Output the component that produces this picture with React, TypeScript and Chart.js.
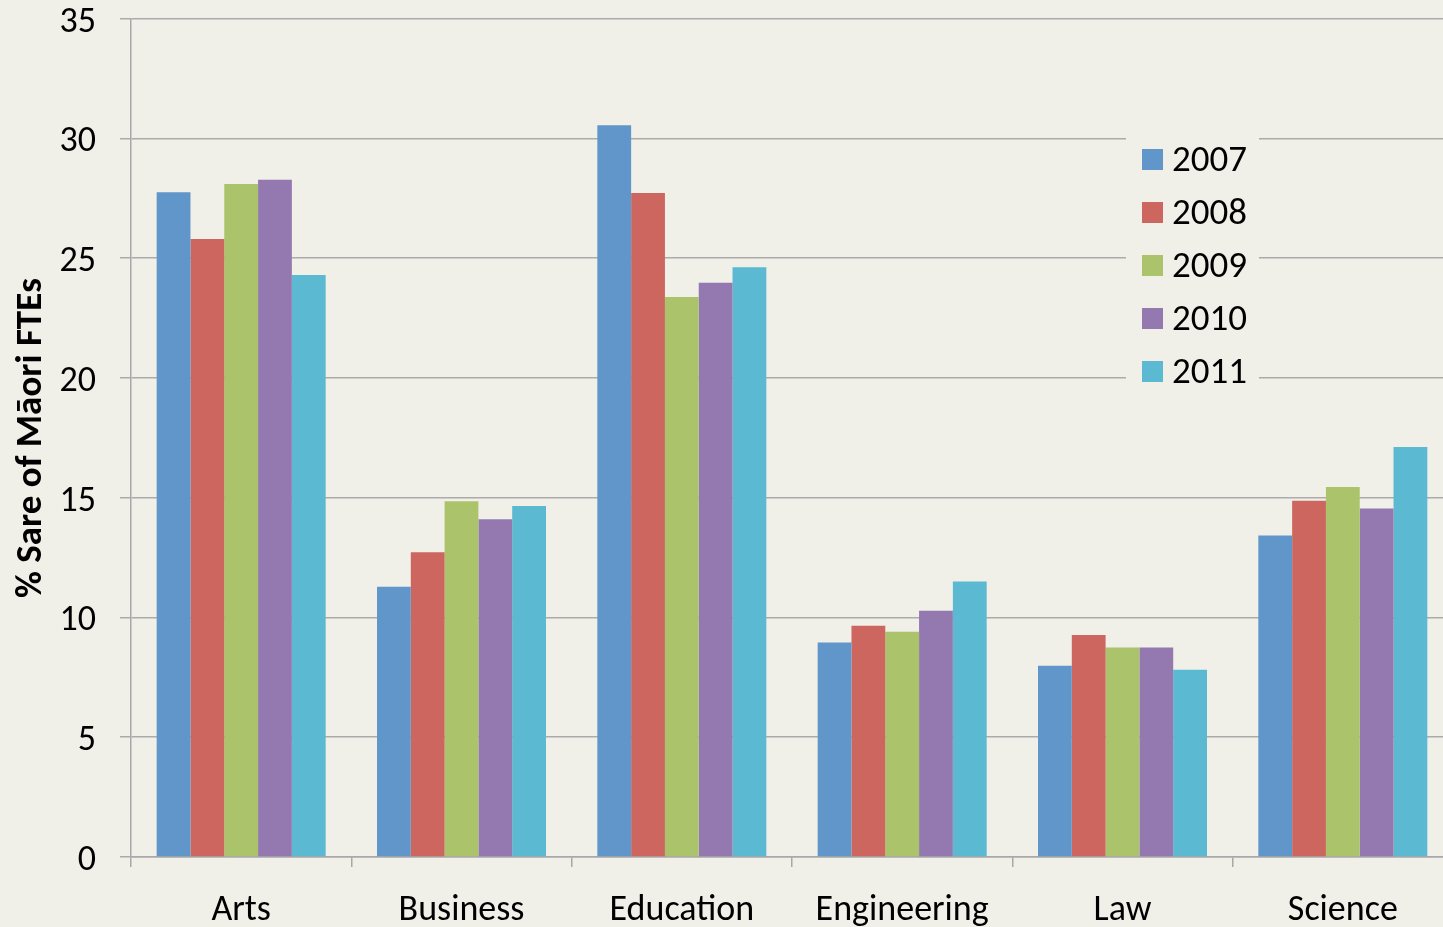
import React, { useEffect, useRef } from "react";
import { Chart, registerables } from "chart.js";

Chart.register(...registerables);

const categories = ["Arts", "Business", "Education", "Engineering", "Law", "Science"];
const years = ["2007", "2008", "2009", "2010", "2011"];
const v2007 = [27.75, 11.28, 30.55, 8.95, 7.98, 13.42];
const v2008 = [25.8, 12.72, 27.72, 9.65, 9.27, 14.87];
const v2009 = [28.1, 14.85, 23.38, 9.4, 8.75, 15.45];
const v2010 = [28.27, 14.1, 23.97, 10.28, 8.75, 14.55];
const v2011 = [24.3, 14.65, 24.62, 11.5, 7.82, 17.12];
const seriesValues = [v2007, v2008, v2009, v2010, v2011];
const colors = ["#6096CA", "#CD665F", "#ABC46C", "#9479B0", "#5BB9D2"];
const yTitle = "% Sare of Māori FTEs";
const BG = "#F0EFE8";
const FONT = "Carlito, Lato, sans-serif";
const SHIFT = 27;

export default function App() {
  const ref = useRef<HTMLCanvasElement | null>(null);
  useEffect(() => {
    document.body.style.margin = "0";
    document.body.style.overflow = "hidden";
    document.body.style.background = BG;
    const canvas = ref.current!;
    const bgPlugin = {
      id: "bg",
      beforeDraw(chart: any) {
        const c = chart.ctx;
        c.save();
        c.fillStyle = BG;
        c.fillRect(0, 0, chart.width, chart.height);
        c.restore();
      },
    };
    const overlayPlugin = {
      id: "overlay",
      afterDraw(chart: any) {
        const c = chart.ctx;
        c.save();
        c.translate(32, 438 + SHIFT);
        c.rotate(-Math.PI / 2);
        c.fillStyle = "#000";
        c.font = `bold 37px ${FONT}`;
        c.textAlign = "center";
        c.textBaseline = "middle";
        c.fillText(yTitle, 0, 0);
        c.restore();
        c.save();
        c.fillStyle = BG;
        c.fillRect(1126, 137 + SHIFT, 133, 255);
        c.font = `37px ${FONT}`;
        c.textBaseline = "middle";
        c.textAlign = "left";
        years.forEach((y, i) => {
          const cy = 160 + SHIFT + i * 53;
          c.fillStyle = colors[i];
          c.fillRect(1142, cy - 11, 21, 21);
          c.fillStyle = "#000";
          c.fillText(y, 1172, cy + 2);
        });
        c.restore();
      },
    };
    const chart = new Chart(canvas, {
      type: "bar",
      data: {
        labels: categories,
        datasets: years.map((y, i) => ({
          label: y,
          data: seriesValues[i],
          backgroundColor: colors[i],
          borderWidth: 0,
          barPercentage: 1,
          categoryPercentage: 0.767,
        })),
      },
      options: {
        responsive: false,
        animation: false,
        layout: { padding: { top: 0, right: 7, left: 0, bottom: 0 } },
        plugins: { legend: { display: false }, tooltip: { enabled: false } },
        scales: {
          x: {
            afterFit(scale: any) {
              scale.height = 70;
            },
            grid: {
              offset: true,
              drawOnChartArea: false,
              drawTicks: true,
              tickLength: 10,
              color: "#A8A8A8",
              lineWidth: 1.5,
            },
            border: { color: "#A8A8A8", width: 1.5 },
            ticks: {
              color: "#000",
              font: { family: FONT, size: 36 },
              padding: 22,
              maxRotation: 0,
            },
          },
          y: {
            min: 0,
            max: 35,
            afterFit(scale: any) {
              scale.width = 131;
            },
            grid: {
              color: "#ABABAB",
              lineWidth: 1.5,
              tickLength: 11,
            },
            border: { color: "#A8A8A8", width: 1.5 },
            ticks: {
              stepSize: 5,
              color: "#000",
              font: { family: FONT, size: 36 },
              padding: 24,
              labelOffset: 4,
            },
          },
        },
      },
      plugins: [bgPlugin, overlayPlugin],
    });
    return () => chart.destroy();
  }, []);
  return (
    <canvas
      ref={ref}
      width={1460}
      height={927 + SHIFT}
      style={{ position: "absolute", left: 0, top: -SHIFT, display: "block" }}
    />
  );
}
